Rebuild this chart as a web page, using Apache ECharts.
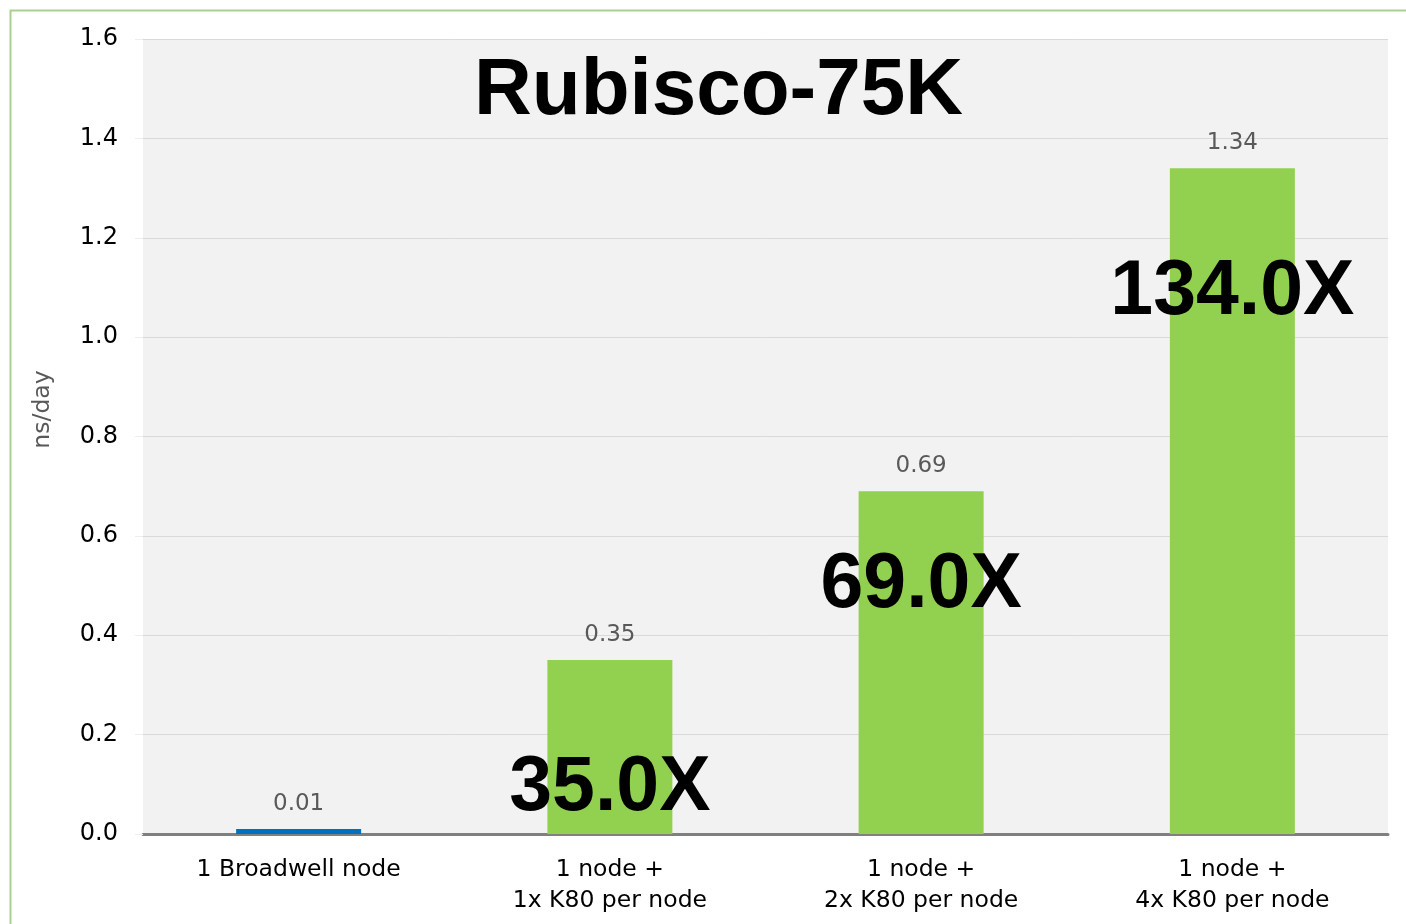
<!DOCTYPE html>
<html>
<head>
<meta charset="utf-8">
<script src="https://cdn.jsdelivr.net/npm/echarts@6/dist/echarts.min.js"></script>
<style>
html,body{margin:0;padding:0;background:#fff;}
#chart{width:1406px;height:924px;}
</style>
</head>
<body>
<div id="chart"></div>
<script>
const categories = ['1 Broadwell node', '1 node +\n1x K80 per node', '1 node +\n2x K80 per node', '1 node +\n4x K80 per node'];
const values = [0.01, 0.35, 0.69, 1.34];
const barColors = ['#0070c0', '#92d050', '#92d050', '#92d050'];
const speedupLabels = ['', '35.0X', '69.0X', '134.0X'];
const speedupLabelAt = [null, 0.092, 0.5, 1.09];
const yTicks = [0, 0.2, 0.4, 0.6, 0.8, 1.0, 1.2, 1.4, 1.6];

const chart = echarts.init(document.getElementById('chart'));
const markData = [];
speedupLabels.forEach((t, i) => {
  if (t) markData.push({ coord: [categories[i], speedupLabelAt[i]], value: t });
});

chart.setOption({
  animation: false,
  backgroundColor: '#ffffff',
  graphic: [{
    type: 'rect', left: 8, top: 8,
    shape: { width: 1420, height: 940 },
    style: { fill: 'none', stroke: '#a9d18e', lineWidth: 2 },
    z: 0
  }],
  title: {
    text: 'Rubisco-75K',
    left: 469, top: 47,
    textStyle: { fontFamily: 'Liberation Sans', fontWeight: 'bold', fontSize: 80, color: '#000' }
  },
  grid: { left: 143, right: 18, top: 39, bottom: 90, show: true, backgroundColor: '#f2f2f2', borderWidth: 0 },
  xAxis: {
    type: 'category',
    data: categories,
    axisLine: { show: true, lineStyle: { color: '#808080', width: 3 } },
    axisTick: { show: false },
    axisLabel: { color: '#000', fontFamily: 'DejaVu Sans', fontSize: 23.5, lineHeight: 31, margin: 20 }
  },
  yAxis: {
    type: 'value',
    min: 0, max: 1.6, interval: 0.2,
    name: 'ns/day',
    nameLocation: 'middle',
    nameGap: 88,
    nameTextStyle: { color: '#595959', fontFamily: 'DejaVu Sans', fontSize: 23.5, padding: [0, 0, 0, 54] },
    axisLine: { show: false },
    axisTick: { show: true, length: 8, lineStyle: { color: '#eeeeee' } },
    splitLine: { show: true, lineStyle: { color: '#d9d9d9', width: 1 } },
    axisLabel: {
      color: '#000', fontFamily: 'DejaVu Sans', fontSize: 24, margin: 25,
      formatter: v => yTicks.includes(+v.toFixed(1)) ? v.toFixed(1) : ''
    }
  },
  series: [{
    type: 'bar',
    data: values.map((v, i) => ({ value: v, itemStyle: { color: barColors[i] } })),
    barWidth: 125,
    label: {
      show: true, position: 'top', distance: 14,
      color: '#595959', fontFamily: 'DejaVu Sans', fontSize: 23,
      formatter: p => p.value.toFixed(2)
    },
    markPoint: {
      symbol: 'rect', symbolSize: [1, 1],
      itemStyle: { color: 'rgba(0,0,0,0)' },
      label: {
        show: true, position: 'inside',
        color: '#000', fontFamily: 'Liberation Sans', fontWeight: 'bold', fontSize: 77,
        formatter: p => p.value
      },
      data: markData
    }
  }]
});
</script>
</body>
</html>
